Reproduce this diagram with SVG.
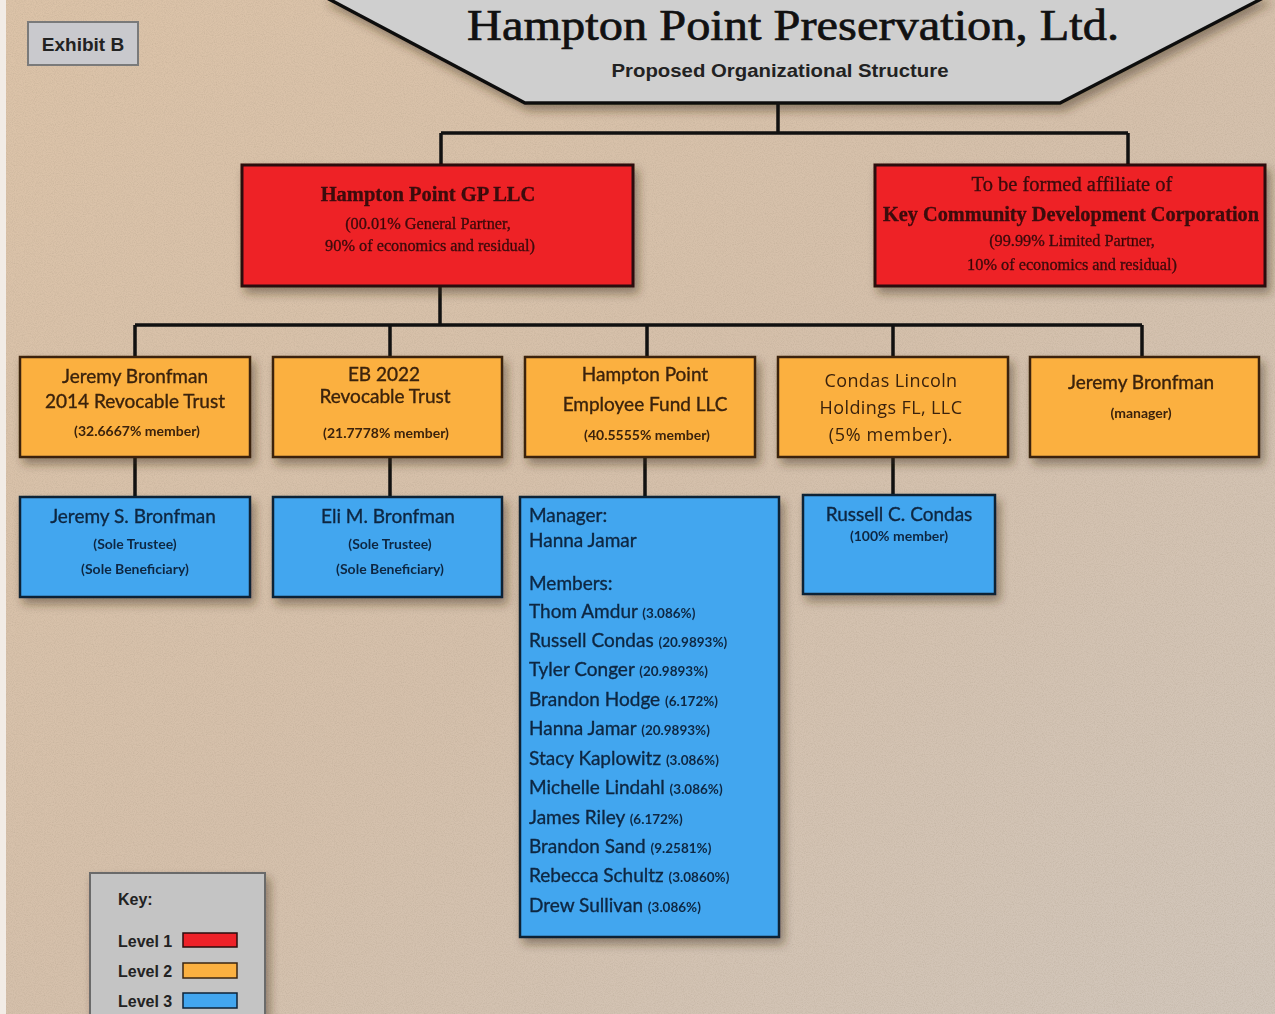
<svg xmlns="http://www.w3.org/2000/svg" width="1275" height="1014" viewBox="0 0 1275 1014">
  <defs>
    <linearGradient id="bg" x1="0" y1="0" x2="1" y2="1">
      <stop offset="0" stop-color="#dcc3a8"/>
      <stop offset="0.5" stop-color="#d5c0ab"/>
      <stop offset="1" stop-color="#d1c6bb"/>
    </linearGradient>
    <filter id="grain" x="0" y="0" width="100%" height="100%">
      <feTurbulence type="fractalNoise" baseFrequency="0.9" numOctaves="2" seed="3" result="n"/>
      <feColorMatrix in="n" type="matrix" values="0 0 0 0 0.35  0 0 0 0 0.28  0 0 0 0 0.2  0 0 0 0.9 -0.35"/>
    </filter>
    <filter id="shadow" x="-10%" y="-10%" width="125%" height="135%">
      <feDropShadow dx="4" dy="6" stdDeviation="5" flood-color="#3a2a1a" flood-opacity="0.45"/>
    </filter>
    <style>
      .conn { fill: none; stroke: #111; stroke-width: 3.5; }
      .l1 { fill: #ee2128; stroke: #2a0d0d; stroke-width: 3; }
      .l2 { fill: #fbb040; stroke: #3a2410; stroke-width: 2.5; }
      .l3 { fill: #42a6ef; stroke: #0e2236; stroke-width: 2.5; }
      .serif { font-family: "Liberation Serif", "Times New Roman", serif; fill: #3a0808; stroke: #3a0808; stroke-width: 0.3; }
      .sans { font-family: Lato, "Open Sans", sans-serif; stroke-width: 0.35; }
      .t2 { fill: #3a220c; stroke: #3a220c; }
      .t3 { fill: #0f2742; stroke: #0f2742; }
      .arial { font-family: "Liberation Sans", Arial, sans-serif; font-weight: bold; fill: #222; }
      .pct { font-size: 13.5px; font-weight: bold; stroke-width: 0; }
      .small { font-size: 14px; font-weight: bold; stroke-width: 0; }
    </style>
  </defs>

  <!-- paper background -->
  <rect x="0" y="0" width="1275" height="1014" fill="url(#bg)"/>
  <rect x="0" y="0" width="1275" height="1014" filter="url(#grain)" opacity="0.5"/>
  <rect x="0" y="0" width="6" height="1014" fill="#f2ece6"/>

  <!-- title banner -->
  <g id="title">
    <polygon points="325,-3 1265,-3 1060,103 525,103" fill="#cfcfcf" stroke="#111" stroke-width="3.5" filter="url(#shadow)"/>
    <text x="793" y="40" text-anchor="middle" font-family="'Liberation Serif', 'Times New Roman', serif" font-size="44" fill="#111" stroke="#111" stroke-width="0.7" textLength="652" lengthAdjust="spacingAndGlyphs">Hampton Point Preservation, Ltd.</text>
    <text x="780" y="77" text-anchor="middle" class="arial" font-size="19" textLength="337" lengthAdjust="spacingAndGlyphs">Proposed Organizational Structure</text>
  </g>

  <g id="exhibit">
    <rect x="28" y="22" width="110" height="43" fill="#c9c9cd" stroke="#7a7a7a" stroke-width="2"/>
    <text x="83" y="51" text-anchor="middle" class="arial" font-size="19">Exhibit B</text>
  </g>

  <!-- connectors -->
  <g id="connectors">
    <path class="conn" d="M778,103 V133 M441,133 H1128 M441,133 V165 M1128,133 V165"/>
    <path class="conn" d="M440,286 V325 M135,325 H1142 M135,325 V357 M390,325 V357 M647,325 V357 M893,325 V357 M1142,325 V357"/>
    <path class="conn" d="M135,457 V497 M390,457 V497 M645,457 V497 M893,457 V495"/>
  </g>

  <!-- level 1 -->
  <g id="gp-llc" filter="url(#shadow)">
    <rect class="l1" x="242" y="165" width="391" height="121"/>
    <text class="serif" x="428" y="201" text-anchor="middle" font-size="20.5" font-weight="bold">Hampton Point GP LLC</text>
    <text class="serif" x="428" y="229" text-anchor="middle" font-size="16.3">(00.01% General Partner,</text>
    <text class="serif" x="430" y="251" text-anchor="middle" font-size="16.3">90% of economics and residual)</text>
  </g>
  <g id="kcdc" filter="url(#shadow)">
    <rect class="l1" x="875" y="165" width="390" height="121"/>
    <text class="serif" x="1072" y="191" text-anchor="middle" font-size="20.5">To be formed affiliate of</text>
    <text class="serif" x="1071" y="221" text-anchor="middle" font-size="20" font-weight="bold" textLength="376" lengthAdjust="spacingAndGlyphs">Key Community Development Corporation</text>
    <text class="serif" x="1072" y="246" text-anchor="middle" font-size="16.3">(99.99% Limited Partner,</text>
    <text class="serif" x="1072" y="270" text-anchor="middle" font-size="16.3">10% of economics and residual)</text>
  </g>

  <!-- level 2 -->
  <g id="jb-trust" filter="url(#shadow)">
    <rect class="l2" x="20" y="357" width="230" height="100"/>
    <text class="sans t2" x="135" y="383" text-anchor="middle" font-size="19">Jeremy Bronfman</text>
    <text class="sans t2" x="135" y="408" text-anchor="middle" font-size="19">2014 Revocable Trust</text>
    <text class="sans t2 small" x="137" y="436" text-anchor="middle">(32.6667% member)</text>
  </g>
  <g id="eb-trust" filter="url(#shadow)">
    <rect class="l2" x="273" y="357" width="229" height="100"/>
    <text class="sans t2" x="384" y="381" text-anchor="middle" font-size="19">EB 2022</text>
    <text class="sans t2" x="385" y="403" text-anchor="middle" font-size="19">Revocable Trust</text>
    <text class="sans t2 small" x="386" y="438" text-anchor="middle">(21.7778% member)</text>
  </g>
  <g id="employee-fund" filter="url(#shadow)">
    <rect class="l2" x="525" y="357" width="230" height="100"/>
    <text class="sans t2" x="645" y="381" text-anchor="middle" font-size="19">Hampton Point</text>
    <text class="sans t2" x="645" y="411" text-anchor="middle" font-size="19">Employee Fund LLC</text>
    <text class="sans t2 small" x="647" y="440" text-anchor="middle">(40.5555% member)</text>
  </g>
  <g id="condas-lincoln" filter="url(#shadow)">
    <rect class="l2" x="778" y="357" width="230" height="100"/>
    <text x="891" y="387" text-anchor="middle" font-size="18" font-family="'Open Sans', sans-serif" fill="#3a220c" letter-spacing="0.4">Condas Lincoln</text>
    <text x="891" y="414" text-anchor="middle" font-size="18" font-family="'Open Sans', sans-serif" fill="#3a220c" letter-spacing="0.4">Holdings FL, LLC</text>
    <text x="891" y="441" text-anchor="middle" font-size="18" font-family="'Open Sans', sans-serif" fill="#3a220c" letter-spacing="0.6">(5% member).</text>
  </g>
  <g id="jb-manager" filter="url(#shadow)">
    <rect class="l2" x="1030" y="357" width="229" height="100"/>
    <text class="sans t2" x="1141" y="389" text-anchor="middle" font-size="19">Jeremy Bronfman</text>
    <text class="sans t2 small" x="1141" y="418" text-anchor="middle">(manager)</text>
  </g>

  <!-- level 3 -->
  <g id="jeremy-s" filter="url(#shadow)">
    <rect class="l3" x="20" y="497" width="230" height="100"/>
    <text class="sans t3" x="133" y="523" text-anchor="middle" font-size="19">Jeremy S. Bronfman</text>
    <text class="sans t3 small" x="135" y="549" text-anchor="middle">(Sole Trustee)</text>
    <text class="sans t3 small" x="135" y="574" text-anchor="middle">(Sole Beneficiary)</text>
  </g>
  <g id="eli-m" filter="url(#shadow)">
    <rect class="l3" x="273" y="497" width="229" height="100"/>
    <text class="sans t3" x="388" y="523" text-anchor="middle" font-size="19">Eli M. Bronfman</text>
    <text class="sans t3 small" x="390" y="549" text-anchor="middle">(Sole Trustee)</text>
    <text class="sans t3 small" x="390" y="574" text-anchor="middle">(Sole Beneficiary)</text>
  </g>
  <g id="fund-members" filter="url(#shadow)">
    <rect class="l3" x="520" y="497" width="259" height="440"/>
    <g class="sans t3" font-size="19">
      <text x="529" y="522">Manager:</text>
      <text x="529" y="547">Hanna Jamar</text>
      <text x="529" y="590">Members:</text>
      <text x="529" y="618">Thom Amdur <tspan class="pct">(3.086%)</tspan></text>
      <text x="529" y="647">Russell Condas <tspan class="pct">(20.9893%)</tspan></text>
      <text x="529" y="676">Tyler Conger <tspan class="pct">(20.9893%)</tspan></text>
      <text x="529" y="706">Brandon Hodge <tspan class="pct">(6.172%)</tspan></text>
      <text x="529" y="735">Hanna Jamar <tspan class="pct">(20.9893%)</tspan></text>
      <text x="529" y="765">Stacy Kaplowitz <tspan class="pct">(3.086%)</tspan></text>
      <text x="529" y="794">Michelle Lindahl <tspan class="pct">(3.086%)</tspan></text>
      <text x="529" y="824">James Riley <tspan class="pct">(6.172%)</tspan></text>
      <text x="529" y="853">Brandon Sand <tspan class="pct">(9.2581%)</tspan></text>
      <text x="529" y="882">Rebecca Schultz <tspan class="pct">(3.0860%)</tspan></text>
      <text x="529" y="912">Drew Sullivan <tspan class="pct">(3.086%)</tspan></text>
    </g>
  </g>
  <g id="russell-c" filter="url(#shadow)">
    <rect class="l3" x="803" y="495" width="192" height="99"/>
    <text class="sans t3" x="899" y="521" text-anchor="middle" font-size="19">Russell C. Condas</text>
    <text class="sans t3 small" x="899" y="541" text-anchor="middle">(100% member)</text>
  </g>

  <!-- legend -->
  <g id="key">
    <rect x="90" y="873" width="175" height="150" fill="#c4c4c4" stroke="#6a6a6a" stroke-width="2" filter="url(#shadow)"/>
    <text x="118" y="905" class="arial" font-size="16">Key:</text>
    <text x="118" y="947" class="arial" font-size="16">Level 1</text>
    <rect x="183" y="933" width="54" height="14" fill="#ee2128" stroke="#2a0d0d" stroke-width="1.5"/>
    <text x="118" y="977" class="arial" font-size="16">Level 2</text>
    <rect x="183" y="963" width="54" height="15" fill="#fbb040" stroke="#3a2410" stroke-width="1.5"/>
    <text x="118" y="1007" class="arial" font-size="16">Level 3</text>
    <rect x="183" y="993" width="54" height="15" fill="#42a6ef" stroke="#0e2236" stroke-width="1.5"/>
  </g>
</svg>
